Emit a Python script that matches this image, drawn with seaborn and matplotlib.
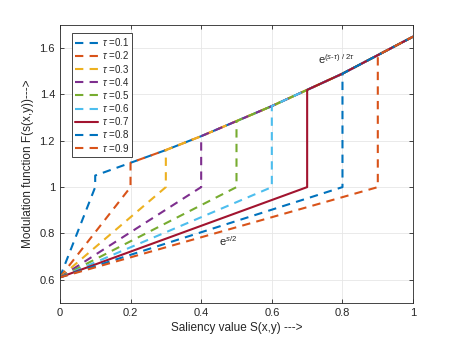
import numpy as np
import pandas as pd
import matplotlib
matplotlib.use('Agg')
import matplotlib.pyplot as plt
import seaborn as sns

# ---------------------------------------------------------------------------
# Data
# ---------------------------------------------------------------------------

taus      = [0.1, 0.2, 0.3, 0.4, 0.5, 0.6, 0.7, 0.8, 0.9]
s_grid    = [0.0, 0.1, 0.2, 0.3, 0.4, 0.5, 0.6, 0.7, 0.8, 0.9, 1.0]
upper_val = [1.00, 1.05, 1.105, 1.16, 1.22, 1.285, 1.35, 1.42, 1.49, 1.57, 1.65]
start_val = 0.61     # value at s = 0 for every tau
knee_val  = 1.00     # value just before the jump at s = tau

colors = ['#0072BD', '#D95319', '#EDB120', '#7E2F8E', '#77AC30',
          '#4DBEEE', '#A2142F', '#0072BD', '#D95319']
styles = ['--', '--', '--', '--', '--', '--', '-', '--', '--']

# ---------------------------------------------------------------------------
# Plot
# ---------------------------------------------------------------------------

sns.set_style('whitegrid')
plt.rcParams['font.family'] = ['Liberation Sans', 'DejaVu Sans']
plt.rcParams['mathtext.fontset'] = 'custom'
plt.rcParams['mathtext.rm'] = 'Liberation Sans'
plt.rcParams['mathtext.it'] = 'Liberation Sans:italic'

fig = plt.figure(figsize=(4.57, 3.43), dpi=100)
ax = fig.add_axes([0.131, 0.117, 0.773, 0.81])

for t, c, ls in zip(taus, colors, styles):
    k = s_grid.index(t)
    xs = [0.0, t] + s_grid[k:]
    ys = [start_val, knee_val] + upper_val[k:]
    sns.lineplot(x=xs, y=ys, ax=ax, color=c, estimator=None, sort=False,
                 linewidth=1.5, label=fr'$\tau$ =$\mathregular{{{t}}}$')
    ax.lines[-1].set_linestyle(ls)
    if ls == '--':
        ax.lines[-1].set_dashes((4, 3))

ax.set_xlim(0, 1)
ax.set_ylim(0.5, 1.7)
ax.set_xticks([0, 0.2, 0.4, 0.6, 0.8, 1])
ax.set_xticklabels(['0', '0.2', '0.4', '0.6', '0.8', '1'])
ax.set_yticks([0.6, 0.8, 1.0, 1.2, 1.4, 1.6])
ax.set_yticklabels(['0.6', '0.8', '1', '1.2', '1.4', '1.6'])
ax.tick_params(direction='in', length=3, labelsize=8, colors='#262626',
               top=True, right=True, bottom=True, left=True, width=0.6)
ax.grid(True, color='#e6e6e6', linewidth=0.6)
for sp in ax.spines.values():
    sp.set_color('#262626')
    sp.set_linewidth(0.6)

ax.set_xlabel('Saliency value S(x,y) --->', fontsize=8.5, color='#262626', labelpad=3)
ax.set_ylabel('Modulation function F(s(x,y))--->', fontsize=8.5, color='#262626', labelpad=4)

ax.text(0.73, 1.525, r'e$^{(s\text{-}\tau)\ /\ 2\tau}$', fontsize=8, color='#262626',
        ha='left', va='bottom')
ax.text(0.45, 0.735, r'e$^{s/2}$', fontsize=8, color='#262626', ha='left', va='bottom')

leg = ax.legend(loc='upper left', bbox_to_anchor=(0.034, 0.972), borderaxespad=0,
                fontsize=7, handlelength=2.3, labelspacing=0.12, borderpad=0.35,
                handletextpad=0.4, fancybox=False, framealpha=1)
leg.get_frame().set_edgecolor('#262626')
leg.get_frame().set_linewidth(0.6)

fig.savefig('out.png', dpi=100)
